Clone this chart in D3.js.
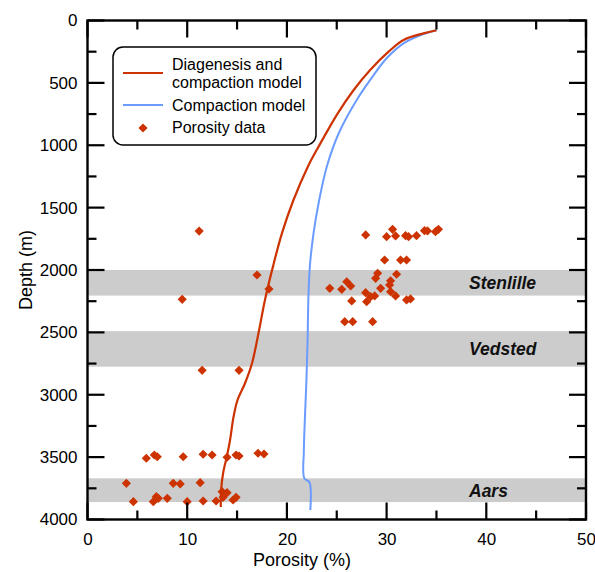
<!DOCTYPE html>
<html>
<head>
<meta charset="utf-8">
<script src="https://cdn.jsdelivr.net/npm/d3@7"></script>
<style>
  body { margin: 0; background: #fff; }
  text { font-family: "Liberation Sans", Arial, sans-serif; }
</style>
</head>
<body>
<div id="main"></div>
<script>
// diagenesis and compaction model (porosity %, depth m)
const diagPoro = [35.0, 33.7, 31.7, 30.2, 28.35, 26.7, 25.1, 23.17, 22.1, 20.66, 19.5, 18.6, 17.8, 17.15, 16.5, 15.8, 15.05, 14.65, 14.3, 13.97, 13.6, 13.4, 13.37];
const diagDepth = [78, 103, 156, 250, 397, 557, 744, 1012, 1172, 1439, 1706, 1973, 2240, 2507, 2748, 2908, 3042, 3176, 3363, 3497, 3630, 3764, 3900];

// compaction model
const compPoro = [35.0, 33.7, 31.7, 30.0, 28.35, 27.0, 25.2, 24.0, 23.24, 22.67, 22.3, 22.15, 22.07, 21.95, 21.8, 21.7, 21.75, 22.25, 22.35];
const compDepth = [78, 108, 183, 303, 477, 637, 904, 1172, 1439, 1706, 1973, 2240, 2587, 2900, 3200, 3450, 3670, 3700, 3925];

// porosity data
const dataPoro = [27.9, 30.0, 30.6, 30.9, 31.9, 32.2, 33.0, 33.8, 34.1, 34.9, 35.2,
  29.8, 31.4, 32.0,
  29.1, 28.9, 31.0, 30.4, 24.3, 26.0, 26.4, 25.5, 29.4, 30.3, 30.4, 27.9, 28.4, 28.8, 30.9, 28.0, 26.5, 32.0, 32.4,
  25.8, 26.6, 28.6,
  11.2, 17.0, 18.2, 9.5, 11.5, 15.2,
  5.9, 6.7, 7.0, 9.6, 11.6, 12.5, 14.0, 14.9, 15.2, 17.1, 17.7,
  3.9, 8.6, 9.3, 11.3,
  4.6, 6.6, 6.9, 7.1, 8.0, 10.0, 11.6, 12.9, 13.5, 14.0, 13.6, 14.6, 14.9];
const dataDepth = [1719, 1733, 1674, 1727, 1725, 1733, 1725, 1685, 1687, 1693, 1674,
  1920, 1920, 1920,
  2026, 2067, 2034, 2086, 2147, 2094, 2128, 2155, 2147, 2120, 2174, 2182, 2214, 2208, 2208, 2254, 2248, 2240, 2232,
  2414, 2414, 2414,
  1688, 2040, 2152, 2235, 2804, 2804,
  3509, 3483, 3497, 3497, 3477, 3483, 3501, 3483, 3491, 3469, 3475,
  3710, 3710, 3715, 3705,
  3857, 3857, 3817, 3830, 3830, 3857, 3852, 3852, 3777, 3785, 3822, 3844, 3822];

// formations
const bandNames = ["Stenlille", "Vedsted", "Aars"];
const bandTop = [2000, 2490, 3670];
const bandBottom = [2205, 2775, 3860];

const xTicks = [0, 10, 20, 30, 40, 50];
const yTicks = [0, 500, 1000, 1500, 2000, 2500, 3000, 3500, 4000];

const red = "#cc3300";
const blue = "#6a9cff";

const width = 595;
const height = 572;

const x = d3.scaleLinear().domain([0, 50]).range([87.5, 586]);
const y = d3.scaleLinear().domain([0, 4000]).range([20.5, 519.5]);

const svg = d3.select("#main")
  .append("svg")
  .attr("width", width)
  .attr("height", height);

// bands
svg.selectAll("rect.band")
  .data(bandNames)
  .enter()
  .append("rect")
  .attr("class", "band")
  .attr("x", x(0))
  .attr("y", (d, i) => y(bandTop[i]))
  .attr("width", x(50) - x(0))
  .attr("height", (d, i) => y(bandBottom[i]) - y(bandTop[i]))
  .style("fill", "#cccccc");

svg.selectAll("text.band")
  .data(bandNames)
  .enter()
  .append("text")
  .attr("class", "band")
  .attr("x", 469)
  .attr("y", (d, i) => (y(bandTop[i]) + y(bandBottom[i])) / 2 + 6.5)
  .style("font-size", "17.5px")
  .style("font-weight", "bold")
  .style("font-style", "italic")
  .style("fill", "#111")
  .text(d => d);

// model curves
const line = d3.line()
  .x(d => x(d[0]))
  .y(d => y(d[1]))
  .curve(d3.curveCatmullRom.alpha(0.5));

svg.append("path")
  .datum(compPoro.map((p, i) => [p, compDepth[i]]))
  .attr("d", line)
  .style("fill", "none")
  .style("stroke", blue)
  .style("stroke-width", 2);

svg.append("path")
  .datum(diagPoro.map((p, i) => [p, diagDepth[i]]))
  .attr("d", line)
  .style("fill", "none")
  .style("stroke", red)
  .style("stroke-width", 2.2);

// data points
const diamond = d3.symbol().type(d3.symbolSquare).size(42);

svg.selectAll("path.point")
  .data(dataPoro)
  .enter()
  .append("path")
  .attr("class", "point")
  .attr("d", diamond)
  .attr("transform", (d, i) => "translate(" + x(d) + "," + y(dataDepth[i]) + ") rotate(45)")
  .style("fill", red);

// axes with inward ticks on all sides
const xMinor = d3.range(0, 51, 5);
const yMinor = d3.range(0, 4001, 250);

function drawTicks(g, values, major, pos, dir) {
  g.selectAll("line")
    .data(values)
    .enter()
    .append("line")
    .attr("x1", d => pos(d).x)
    .attr("y1", d => pos(d).y)
    .attr("x2", d => pos(d).x + dir[0] * (major.includes(d) ? 17 : 9))
    .attr("y2", d => pos(d).y + dir[1] * (major.includes(d) ? 17 : 9))
    .style("stroke", "#000")
    .style("stroke-width", 2.2);
}

const ticks = svg.append("g");
drawTicks(ticks.append("g"), xMinor, xTicks, d => ({ x: x(d), y: y(4000) }), [0, -1]);
drawTicks(ticks.append("g"), xMinor, xTicks, d => ({ x: x(d), y: y(0) }), [0, 1]);
drawTicks(ticks.append("g"), yMinor, yTicks, d => ({ x: x(0), y: y(d) }), [1, 0]);
drawTicks(ticks.append("g"), yMinor, yTicks, d => ({ x: x(50), y: y(d) }), [-1, 0]);

svg.append("rect")
  .attr("x", x(0))
  .attr("y", y(0))
  .attr("width", x(50) - x(0))
  .attr("height", y(4000) - y(0))
  .style("fill", "none")
  .style("stroke", "#000")
  .style("stroke-width", 2.4);

const xAxis = d3.axisBottom(x).tickValues(xTicks).tickSize(0).tickPadding(13);
svg.append("g")
  .attr("transform", "translate(0," + y(4000) + ")")
  .call(xAxis)
  .call(g => g.select(".domain").remove())
  .selectAll("text")
  .style("font-size", "17px")
  .style("font-family", "Liberation Sans, Arial, sans-serif")
  .style("fill", "#000");

const yAxis = d3.axisLeft(y).tickValues(yTicks).tickFormat(d3.format("d")).tickSize(0).tickPadding(10);
svg.append("g")
  .attr("transform", "translate(" + x(0) + ",0)")
  .call(yAxis)
  .call(g => g.select(".domain").remove())
  .selectAll("text")
  .style("font-size", "17px")
  .style("font-family", "Liberation Sans, Arial, sans-serif")
  .style("fill", "#000");

svg.append("text")
  .attr("x", 302)
  .attr("y", 566)
  .style("text-anchor", "middle")
  .style("font-size", "18px")
  .text("Porosity (%)");

svg.append("text")
  .attr("transform", "rotate(-90)")
  .attr("x", -270)
  .attr("y", 32)
  .style("text-anchor", "middle")
  .style("font-size", "18px")
  .text("Depth (m)");

// legend
const legend = svg.append("g");
legend.append("rect")
  .attr("x", 113)
  .attr("y", 47)
  .attr("width", 203)
  .attr("height", 98)
  .attr("rx", 10)
  .style("fill", "#fff")
  .style("stroke", "#000")
  .style("stroke-width", 1.5);

legend.append("line")
  .attr("x1", 123).attr("x2", 163)
  .attr("y1", 73).attr("y2", 73)
  .style("stroke", red).style("stroke-width", 2.2);
legend.append("line")
  .attr("x1", 123).attr("x2", 163)
  .attr("y1", 105).attr("y2", 105)
  .style("stroke", blue).style("stroke-width", 2);
legend.append("path")
  .attr("d", diamond)
  .attr("transform", "translate(143,128) rotate(45)")
  .style("fill", red);

const legendText = [["Diagenesis and", 69.5], ["compaction model", 88], ["Compaction model", 110.5], ["Porosity data", 133]];
legend.selectAll("text")
  .data(legendText)
  .enter()
  .append("text")
  .attr("x", 172)
  .attr("y", d => d[1])
  .style("font-size", "16px")
  .text(d => d[0]);
</script>
</body>
</html>
